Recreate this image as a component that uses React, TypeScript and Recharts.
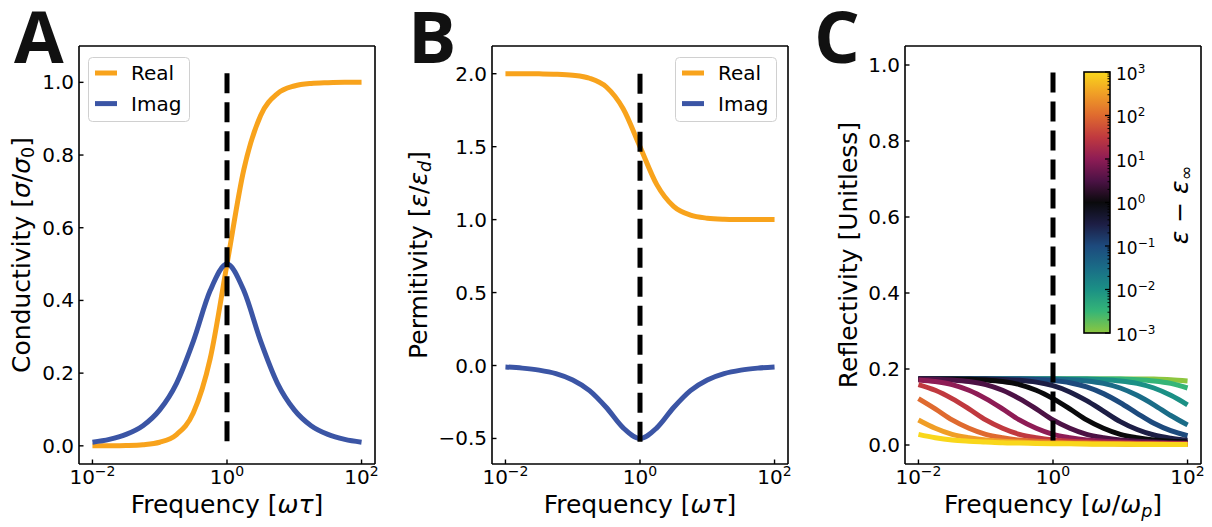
import React from 'react';
import { LineChart, Line, XAxis, YAxis, ReferenceLine, Legend } from 'recharts';

const FONT = '"DejaVu Sans", sans-serif';
const ORANGE = '#F8A31C';
const BLUE = '#3B55A5';
const LW = 5;

// shared frequency grid (quarter decades from 1e-2 to 1e2)
const freq = [0.01, 0.01778, 0.03162, 0.05623, 0.1, 0.1778, 0.3162, 0.5623, 1, 1.778, 3.162, 5.623, 10, 17.78, 31.62, 56.23, 100];

// Panel A: conductivity
const condReal = [0.0001, 0.0003, 0.001, 0.0032, 0.0099, 0.031, 0.091, 0.24, 0.5, 0.76, 0.909, 0.969, 0.99, 0.997, 0.999, 1.0, 1.0];
const condImag = [0.01, 0.0178, 0.0315, 0.0555, 0.099, 0.172, 0.288, 0.427, 0.5, 0.427, 0.288, 0.172, 0.099, 0.0555, 0.0315, 0.0178, 0.01];

// Panel B: permittivity
const permReal = [2.0, 2.0, 1.999, 1.997, 1.99, 1.969, 1.909, 1.76, 1.5, 1.24, 1.091, 1.031, 1.01, 1.003, 1.001, 1.0, 1.0];
const permImag = [-0.01, -0.0178, -0.0315, -0.0555, -0.099, -0.172, -0.288, -0.427, -0.5, -0.427, -0.288, -0.172, -0.099, -0.0555, -0.0315, -0.0178, -0.01];

// Panel C: reflectivity, one series per (eps - eps_inf) = 1e-3 ... 1e3
const reflM30 = [0.174, 0.174, 0.174, 0.174, 0.174, 0.174, 0.174, 0.174, 0.174, 0.174, 0.174, 0.174, 0.174, 0.174, 0.1734, 0.1718, 0.1686];
const reflM25 = [0.174, 0.174, 0.174, 0.174, 0.174, 0.174, 0.174, 0.174, 0.174, 0.174, 0.174, 0.174, 0.1734, 0.1718, 0.1686, 0.1622, 0.15];
const reflM20 = [0.174, 0.174, 0.174, 0.174, 0.174, 0.174, 0.174, 0.174, 0.174, 0.174, 0.1734, 0.1718, 0.1686, 0.1622, 0.15, 0.1308, 0.1058];
const reflM15 = [0.174, 0.174, 0.174, 0.174, 0.174, 0.174, 0.174, 0.174, 0.1734, 0.1718, 0.1686, 0.1622, 0.15, 0.1308, 0.1058, 0.0776, 0.0528];
const reflM10 = [0.174, 0.174, 0.174, 0.174, 0.174, 0.174, 0.1736, 0.1722, 0.1694, 0.1638, 0.153, 0.1352, 0.1112, 0.0834, 0.0572, 0.0376, 0.0244];
const reflM05 = [0.174, 0.174, 0.174, 0.174, 0.1738, 0.1726, 0.1702, 0.1654, 0.156, 0.1396, 0.1166, 0.0892, 0.0616, 0.0408, 0.0262, 0.0178, 0.0124];
const refl00 = [0.174, 0.174, 0.174, 0.173, 0.171, 0.167, 0.159, 0.144, 0.122, 0.095, 0.066, 0.044, 0.028, 0.019, 0.013, 0.01, 0.008];
const reflP05 = [0.174, 0.173, 0.171, 0.167, 0.159, 0.144, 0.122, 0.095, 0.066, 0.044, 0.028, 0.019, 0.013, 0.01, 0.008, 0.006, 0.005];
const reflP10 = [0.171, 0.167, 0.159, 0.144, 0.122, 0.095, 0.066, 0.044, 0.028, 0.019, 0.013, 0.01, 0.008, 0.006, 0.005, 0.004, 0.0035];
const reflP15 = [0.159, 0.144, 0.122, 0.095, 0.066, 0.044, 0.028, 0.019, 0.013, 0.01, 0.008, 0.006, 0.005, 0.004, 0.0035, 0.003, 0.0025];
const reflP20 = [0.122, 0.095, 0.066, 0.044, 0.028, 0.019, 0.013, 0.01, 0.008, 0.006, 0.005, 0.004, 0.0035, 0.003, 0.0025, 0.002, 0.002];
const reflP25 = [0.066, 0.044, 0.028, 0.019, 0.013, 0.01, 0.008, 0.006, 0.005, 0.004, 0.0035, 0.003, 0.0025, 0.002, 0.002, 0.0015, 0.0015];
const reflP30 = [0.028, 0.019, 0.013, 0.01, 0.008, 0.006, 0.005, 0.004, 0.0035, 0.003, 0.0025, 0.002, 0.002, 0.0015, 0.0015, 0.001, 0.001];

const reflSeries = [reflM30, reflM25, reflM20, reflM15, reflM10, reflM05, refl00, reflP05, reflP10, reflP15, reflP20, reflP25, reflP30];
const reflColors = ['#8DC63F', '#35B577', '#1B9085', '#1A6C87', '#1D4A7D', '#1D1E45', '#0A0A0C', '#4C1245', '#8E1C55', '#C0393F', '#DF6A2F', '#F09E26', '#F9D71B'];

// vertical dashed marker at omega = 1
const dashA = [{ x: 1, y: 1.025 }, { x: 1, y: 0 }];
const dashB = [{ x: 1, y: 2.0 }, { x: 1, y: -0.55 }];
const dashC = [{ x: 1, y: 0.98 }, { x: 1, y: 0 }];

// axes
const X_DOMAIN: [number, number] = [0.0063096, 158.489];
const xTicks = [0.01, 1, 100];
const xTickExp = ['\u22122', '0', '2'];
const yTicksA = [0, 0.2, 0.4, 0.6, 0.8, 1.0];
const yLabelsA = ['0.0', '0.2', '0.4', '0.6', '0.8', '1.0'];
const yTicksB = [-0.5, 0, 0.5, 1.0, 1.5, 2.0];
const yLabelsB = ['\u22120.5', '0.0', '0.5', '1.0', '1.5', '2.0'];
const yTicksC = [0, 0.2, 0.4, 0.6, 0.8, 1.0];
const yLabelsC = ['0.0', '0.2', '0.4', '0.6', '0.8', '1.0'];
const Y_DOMAIN_A: [number, number] = [-0.05, 1.1];
const Y_DOMAIN_B: [number, number] = [-0.675, 2.19];
const Y_DOMAIN_C: [number, number] = [-0.05, 1.05];

// colorbar
const cbarExp = [3, 2, 1, 0, -1, -2, -3];
const cbarExpLabels = ['3', '2', '1', '0', '\u22121', '\u22122', '\u22123'];
const cbarStops = ['#F9D71B', '#F09E26', '#DF6A2F', '#C0393F', '#8E1C55', '#4C1245', '#0A0A0C', '#1D1E45', '#1D4A7D', '#1A6C87', '#1B9085', '#35B577', '#8DC63F'];

const legendNames = ['Real', 'Imag'];
const legendColors = [ORANGE, BLUE];

const AXIS_LINE = { stroke: '#000', strokeWidth: 1.6 };
const TICK_LINE = { stroke: '#000', strokeWidth: 1.4 };

function XTick(props: any) {
  const { x, y, index } = props;
  return (
    <text x={x} y={y + 19.5} textAnchor="middle" fontFamily={FONT} fontSize={20} fill="#000">
      <tspan>10</tspan>
      <tspan dy={-8} fontSize={14}>{xTickExp[index]}</tspan>
    </text>
  );
}

const makeYTick = (labels: string[]) => (props: any) => {
  const { x, y, index } = props;
  return (
    <text x={x - 5} y={y + 7} textAnchor="end" fontFamily={FONT} fontSize={20} fill="#000">
      {labels[index]}
    </text>
  );
};

function LegendBox() {
  return (
    <div style={{ width: 102, height: 65 }}>
      <svg width={102} height={65} style={{ display: 'block' }}>
        <rect x={0.5} y={0.5} width={101} height={64} rx={4} ry={4} fill="rgba(255,255,255,0.8)" stroke="#D0D0D0" strokeWidth={1} />
        {legendNames.map((n, i) => (
          <g key={n}>
            <line x1={7} x2={29} y1={16 + i * 30.6} y2={16 + i * 30.6} stroke={legendColors[i]} strokeWidth={LW} />
            <text x={43} y={23.3 + i * 30.6} fontFamily={FONT} fontSize={20} fill="#000">{n}</text>
          </g>
        ))}
      </svg>
    </div>
  );
}

function PanelA() {
  const data = freq.map((f, i) => ({ x: f, real: condReal[i], imag: condImag[i] }));
  return (
    <LineChart width={410} height={527} data={data} margin={{ top: 46, right: 35, bottom: 0, left: 0 }}>
      <XAxis dataKey="x" type="number" scale="log" domain={X_DOMAIN} allowDataOverflow ticks={xTicks} interval={0} tick={XTick} tickSize={-4.5} tickMargin={4.5} height={63} axisLine={AXIS_LINE} tickLine={TICK_LINE} />
      <YAxis type="number" domain={Y_DOMAIN_A} allowDataOverflow ticks={yTicksA} interval={0} tick={makeYTick(yLabelsA)} tickSize={-4.5} tickMargin={4.5} width={79} axisLine={AXIS_LINE} tickLine={TICK_LINE} />
      <ReferenceLine x={X_DOMAIN[1]} stroke="#000" strokeWidth={1.6} />
      <ReferenceLine y={Y_DOMAIN_A[1]} stroke="#000" strokeWidth={1.6} />
      <Line type="monotone" dataKey="real" stroke={ORANGE} strokeWidth={LW} dot={false} isAnimationActive={false} />
      <Line type="monotone" dataKey="imag" stroke={BLUE} strokeWidth={LW} dot={false} isAnimationActive={false} />
      <Line type="linear" data={dashA} dataKey="y" stroke="#000" strokeWidth={5} strokeDasharray="20 9" dot={false} isAnimationActive={false} />
      <Legend layout="vertical" align="center" verticalAlign="middle" content={() => <LegendBox />} wrapperStyle={{ left: 88, top: 57, width: 102, height: 65 }} />
    </LineChart>
  );
}

function PanelB() {
  const data = freq.map((f, i) => ({ x: f, real: permReal[i], imag: permImag[i] }));
  return (
    <LineChart width={410} height={527} data={data} margin={{ top: 46, right: 32, bottom: 0, left: 0 }}>
      <XAxis dataKey="x" type="number" scale="log" domain={X_DOMAIN} allowDataOverflow ticks={xTicks} interval={0} tick={XTick} tickSize={-4.5} tickMargin={4.5} height={63} axisLine={AXIS_LINE} tickLine={TICK_LINE} />
      <YAxis type="number" domain={Y_DOMAIN_B} allowDataOverflow ticks={yTicksB} interval={0} tick={makeYTick(yLabelsB)} tickSize={-4.5} tickMargin={4.5} width={82} axisLine={AXIS_LINE} tickLine={TICK_LINE} />
      <ReferenceLine x={X_DOMAIN[1]} stroke="#000" strokeWidth={1.6} />
      <ReferenceLine y={Y_DOMAIN_B[1]} stroke="#000" strokeWidth={1.6} />
      <Line type="monotone" dataKey="real" stroke={ORANGE} strokeWidth={LW} dot={false} isAnimationActive={false} />
      <Line type="monotone" dataKey="imag" stroke={BLUE} strokeWidth={LW} dot={false} isAnimationActive={false} />
      <Line type="linear" data={dashB} dataKey="y" stroke="#000" strokeWidth={5} strokeDasharray="20 9" dot={false} isAnimationActive={false} />
      <Legend layout="vertical" align="center" verticalAlign="middle" content={() => <LegendBox />} wrapperStyle={{ left: 265, top: 57, width: 102, height: 65 }} />
    </LineChart>
  );
}

function PanelC() {
  const data = freq.map((f, i) => {
    const row: any = { x: f };
    reflSeries.forEach((s, k) => { row['r' + k] = s[i]; });
    return row;
  });
  return (
    <LineChart width={392} height={527} data={data} margin={{ top: 46, right: 11, bottom: 0, left: 0 }}>
      <XAxis dataKey="x" type="number" scale="log" domain={X_DOMAIN} allowDataOverflow ticks={xTicks} interval={0} tick={XTick} tickSize={-4.5} tickMargin={4.5} height={63} axisLine={AXIS_LINE} tickLine={TICK_LINE} />
      <YAxis type="number" domain={Y_DOMAIN_C} allowDataOverflow ticks={yTicksC} interval={0} tick={makeYTick(yLabelsC)} tickSize={-4.5} tickMargin={4.5} width={85} axisLine={AXIS_LINE} tickLine={TICK_LINE} />
      <ReferenceLine x={X_DOMAIN[1]} stroke="#000" strokeWidth={1.6} />
      <ReferenceLine y={Y_DOMAIN_C[1]} stroke="#000" strokeWidth={1.6} />
      {reflSeries.map((_, k) => (
        <Line key={k} type="monotone" dataKey={'r' + k} stroke={reflColors[k]} strokeWidth={LW} dot={false} isAnimationActive={false} />
      ))}
      <Line type="linear" data={dashC} dataKey="y" stroke="#000" strokeWidth={5} strokeDasharray="20 9" dot={false} isAnimationActive={false} />
    </LineChart>
  );
}

function Overlay() {
  const cbTop = 72;
  const cbBot = 333;
  const cbLeft = 1084;
  const cbRight = 1110;
  const yOf = (e: number) => cbTop + ((3 - e) / 6) * (cbBot - cbTop);
  const minor: number[] = [];
  for (let d = -3; d < 3; d++) {
    for (let k = 2; k <= 9; k++) minor.push(d + Math.log10(k));
  }
  return (
    <svg width={1212} height={527} style={{ position: 'absolute', left: 0, top: 0, pointerEvents: 'none' }}>
      <defs>
        <linearGradient id="cmap" x1="0" y1="0" x2="0" y2="1">
          {cbarStops.map((c, i) => (
            <stop key={i} offset={`${(i / (cbarStops.length - 1)) * 100}%`} stopColor={c} />
          ))}
        </linearGradient>
      </defs>
      {/* panel letters */}
      <text x={14} y={63} fontFamily='"Open Sans", sans-serif' fontWeight={700} fontSize={72} fill="#111">A</text>
      <text x={408} y={63} fontFamily='"Open Sans", sans-serif' fontWeight={700} fontSize={72} fill="#111">B</text>
      <text x={814} y={63} fontFamily='"Open Sans", sans-serif' fontWeight={700} fontSize={72} fill="#111">C</text>

      {/* axis labels */}
      <g fontFamily={FONT} fontSize={25} fill="#000">
        <text transform="translate(30,255) rotate(-90)" textAnchor="middle">
          Conductivity [<tspan fontStyle="italic">σ</tspan>/<tspan fontStyle="italic">σ</tspan><tspan fontSize={17.5} dy={4}>0</tspan><tspan dy={-4}>]</tspan>
        </text>
        <text x={227} y={513} textAnchor="middle">
          Frequency [<tspan fontStyle="italic">ωτ</tspan>]
        </text>
        <text transform="translate(427,255) rotate(-90)" textAnchor="middle">
          Permitivity [<tspan fontStyle="italic">ε</tspan>/<tspan fontStyle="italic">ε</tspan><tspan fontSize={17.5} dy={4} fontStyle="italic">d</tspan><tspan dy={-4}>]</tspan>
        </text>
        <text x={640} y={513} textAnchor="middle">
          Frequency [<tspan fontStyle="italic">ωτ</tspan>]
        </text>
        <text transform="translate(857,255) rotate(-90)" textAnchor="middle">
          Reflectivity [Unitless]
        </text>
        <text x={1053} y={513} textAnchor="middle">
          Frequency [<tspan fontStyle="italic">ω</tspan>/<tspan fontStyle="italic">ω</tspan><tspan fontSize={17.5} dy={4} fontStyle="italic">p</tspan><tspan dy={-4}>]</tspan>
        </text>
        <text transform="translate(1188,205) rotate(-90)" textAnchor="middle">
          <tspan fontStyle="italic">ε</tspan> − <tspan fontStyle="italic">ε</tspan><tspan fontSize={17.5} dy={4}>∞</tspan>
        </text>
      </g>

      {/* colorbar */}
      <rect x={cbLeft} y={cbTop} width={cbRight - cbLeft} height={cbBot - cbTop} fill="url(#cmap)" stroke="#000" strokeWidth={1.6} />
      {minor.map((e, i) => (
        <line key={'m' + i} x1={cbRight - 2.5} x2={cbRight} y1={yOf(e)} y2={yOf(e)} stroke="#000" strokeWidth={1} />
      ))}
      {cbarExp.map((e, i) => (
        <g key={'c' + i}>
          <line x1={cbRight - 5} x2={cbRight} y1={yOf(e)} y2={yOf(e)} stroke="#000" strokeWidth={1.3} />
          <text x={1116} y={yOf(e) + 7.5} fontFamily={FONT} fontSize={17} fill="#000">
            <tspan>10</tspan>
            <tspan dy={-7} fontSize={12}>{cbarExpLabels[i]}</tspan>
          </text>
        </g>
      ))}
    </svg>
  );
}

export default function App() {
  return (
    <div style={{ position: 'absolute', left: 0, top: 0, width: 1212, height: 527, background: '#fff', overflow: 'hidden' }}>
      <div style={{ position: 'absolute', left: 0, top: 0 }}><PanelA /></div>
      <div style={{ position: 'absolute', left: 410, top: 0 }}><PanelB /></div>
      <div style={{ position: 'absolute', left: 820, top: 0 }}><PanelC /></div>
      <Overlay />
    </div>
  );
}
